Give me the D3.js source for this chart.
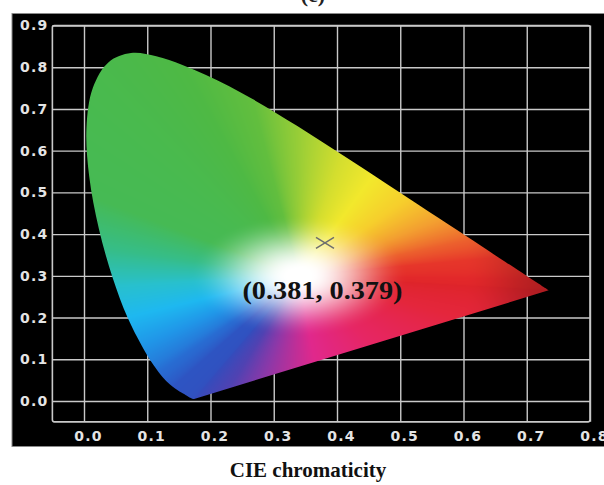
<!DOCTYPE html>
<html>
<head>
<meta charset="utf-8">
<script src="https://cdn.jsdelivr.net/npm/d3@7"></script>
<style>
  html, body { margin: 0; padding: 0; background: #ffffff; }
  svg { display: block; }
</style>
</head>
<body>
<svg id="chart" width="604" height="485"></svg>
<script>
// ---------------- DATA ----------------
// CIE 1931 2° spectral locus (wavelength nm, x, y)
const locusNm = [380,385,390,395,400,405,410,415,420,425,430,435,440,445,450,455,460,465,470,475,480,485,490,495,500,505,510,515,520,525,530,535,540,545,550,555,560,565,570,575,580,585,590,595,600,605,610,615,620,625,630,635,640,645,650,655,660,665,670,675,680,685,690,695,700];
const locusX = [0.1741,0.1740,0.1738,0.1736,0.1733,0.1730,0.1726,0.1721,0.1714,0.1703,0.1689,0.1669,0.1644,0.1611,0.1566,0.1510,0.1440,0.1355,0.1241,0.1096,0.0913,0.0687,0.0454,0.0235,0.0082,0.0039,0.0139,0.0389,0.0743,0.1142,0.1547,0.1929,0.2296,0.2658,0.3016,0.3373,0.3731,0.4087,0.4441,0.4788,0.5125,0.5448,0.5752,0.6029,0.6270,0.6482,0.6658,0.6801,0.6915,0.7006,0.7079,0.7140,0.7190,0.7230,0.7260,0.7283,0.7300,0.7311,0.7320,0.7327,0.7334,0.7340,0.7344,0.7346,0.7347];
const locusY = [0.0050,0.0050,0.0049,0.0049,0.0048,0.0048,0.0048,0.0048,0.0051,0.0058,0.0069,0.0086,0.0109,0.0138,0.0177,0.0227,0.0297,0.0399,0.0578,0.0868,0.1327,0.2007,0.2950,0.4127,0.5384,0.6548,0.7502,0.8120,0.8338,0.8262,0.8059,0.7816,0.7543,0.7243,0.6923,0.6589,0.6245,0.5896,0.5547,0.5202,0.4866,0.4544,0.4242,0.3965,0.3725,0.3514,0.3340,0.3197,0.3083,0.2993,0.2920,0.2859,0.2809,0.2770,0.2740,0.2717,0.2700,0.2689,0.2680,0.2673,0.2666,0.2660,0.2656,0.2654,0.2653];

const xTickValues = [0.0,0.1,0.2,0.3,0.4,0.5,0.6,0.7,0.8];
const yTickValues = [0.0,0.1,0.2,0.3,0.4,0.5,0.6,0.7,0.8,0.9];

const pointX = 0.381;
const pointY = 0.379;
const pointLabel = "(0.381, 0.379)";
const chartTitle = "CIE chromaticity";
const panelLabel = "(c)";

// ---------------- STYLE ----------------
const whitePoint = [0.34, 0.30];
// colour stops along the spectral locus (nm -> rgb)
const nmStops = [
  [380,[52,76,188]],[462,[46,84,194]],[472,[40,108,210]],
  [480,[32,150,232]],[485,[30,184,240]],[489,[40,192,205]],[493,[54,189,135]],
  [498,[70,186,84]],[530,[78,185,68]],[545,[98,190,62]],[555,[150,205,55]],
  [565,[212,222,46]],[572,[242,232,44]],[580,[246,206,44]],[588,[243,160,48]],
  [597,[236,96,45]],[607,[230,54,42]],[630,[226,40,42]],[700,[222,36,42]]
];
// colour stops along the purple line (0 = red end, 1 = violet end)
const purpleStops = [
  [0,[222,36,42]],[0.25,[228,38,60]],[0.5,[230,38,100]],[0.66,[224,40,140]],
  [0.8,[140,56,168]],[0.9,[80,66,178]],[1,[52,76,188]]
];

const x = d3.scaleLinear().domain([0, 0.8]).range([84, 590]);
const y = d3.scaleLinear().domain([0, 0.9]).range([401, 25.5]);
const frameX0 = x(-0.05), frameY1 = y(-0.05);
const frameX1 = x(0.8), frameY0 = y(0.9);

const svg = d3.select("#chart");

// clipped top panel label
svg.append("text")
  .attr("x", 313).attr("y", 2)
  .attr("text-anchor", "middle")
  .style("font-family", "'Liberation Serif','Times New Roman',serif")
  .style("font-weight", "bold").style("font-size", "22px")
  .attr("fill", "#222").text(panelLabel);

// black background panel
svg.append("rect")
  .attr("x", 12).attr("y", 13.5).attr("width", 600).attr("height", 433)
  .attr("fill", "#000").attr("stroke", "#8a8a8a").attr("stroke-width", 1);

// grid via axes
const gridColor = "#c9c9c9";
const xAxis = d3.axisBottom(x).tickValues(xTickValues)
  .tickSize(-(frameY1 - frameY0)).tickPadding(9)
  .tickFormat(d3.format(".1f"));
const gx = svg.append("g").attr("transform", `translate(0,${frameY1})`).call(xAxis);
gx.select(".domain").remove();
gx.selectAll("line").attr("stroke", gridColor).attr("stroke-width", 1.4);
gx.selectAll("text").attr("dx", 4);

const yAxis = d3.axisLeft(y).tickValues(yTickValues)
  .tickSize(-(frameX1 - frameX0)).tickPadding(4)
  .tickFormat(d3.format(".1f"));
const gy = svg.append("g").attr("transform", `translate(${frameX0},0)`).call(yAxis);
gy.select(".domain").remove();
gy.selectAll("line").attr("stroke", gridColor).attr("stroke-width", 1.4);

svg.selectAll(".tick text")
  .attr("fill", "#e4e4e4")
  .style("font-family", "'DejaVu Sans', Verdana, sans-serif")
  .style("font-weight", "bold").style("font-size", "14px")
  .style("letter-spacing", "1.2px");

// frame
svg.append("rect")
  .attr("x", frameX0).attr("y", frameY0)
  .attr("width", frameX1 - frameX0).attr("height", frameY1 - frameY0)
  .attr("rx", 2)
  .attr("fill", "none").attr("stroke", gridColor).attr("stroke-width", 1.6);

// ---------------- chromaticity fill ----------------
function lerpColor(stops, v) {
  if (v <= stops[0][0]) return stops[0][1].slice();
  for (let i = 0; i < stops.length - 1; i++) {
    const a = stops[i], b = stops[i + 1];
    if (v <= b[0]) {
      const t = (v - a[0]) / (b[0] - a[0]);
      return [0,1,2].map(k => a[1][k] + (b[1][k] - a[1][k]) * t);
    }
  }
  return stops[stops.length - 1][1].slice();
}

const locus = locusNm.map((nm, i) => ({nm, x: locusX[i], y: locusY[i]}));
// dense boundary
const boundary = [];
for (let i = 0; i < locus.length - 1; i++) {
  const a = locus[i], b = locus[i + 1];
  for (let k = 0; k < 10; k++) {
    const u = k / 10;
    const nm = a.nm + (b.nm - a.nm) * u;
    boundary.push({x: a.x + (b.x - a.x) * u, y: a.y + (b.y - a.y) * u, c: lerpColor(nmStops, nm)});
  }
}
const last = locus[locus.length - 1], first = locus[0];
boundary.push({x: last.x, y: last.y, c: lerpColor(nmStops, last.nm)});
for (let k = 1; k < 200; k++) {
  const t = k / 200;
  boundary.push({x: last.x + (first.x - last.x) * t, y: last.y + (first.y - last.y) * t, c: lerpColor(purpleStops, t)});
}

const N = 4096;
const lutC = new Array(N);
const wx = whitePoint[0], wy = whitePoint[1];
function wrap(a) { while (a > Math.PI) a -= 2 * Math.PI; while (a <= -Math.PI) a += 2 * Math.PI; return a; }
const nb = boundary.length;
const segAng = boundary.map(p => Math.atan2(p.y - wy, p.x - wx));
for (let j = 0; j < N; j++) {
  const th = -Math.PI + (j + 0.5) / N * 2 * Math.PI;
  const dx = Math.cos(th), dy = Math.sin(th);
  for (let i = 0; i < nb; i++) {
    const p = boundary[i], q = boundary[(i + 1) % nb];
    const a0 = segAng[i], del = wrap(segAng[(i + 1) % nb] - a0);
    const d = wrap(th - a0);
    if ((del >= 0 && d >= 0 && d <= del) || (del < 0 && d <= 0 && d >= del)) {
      const ex = q.x - p.x, ey = q.y - p.y;
      const px = p.x - wx, py = p.y - wy;
      const den = dx * ey - dy * ex;
      if (Math.abs(den) < 1e-12) continue;
      const u = (px * dy - py * dx) / den;
      const uu = Math.max(0, Math.min(1, u));
      lutC[j] = [0,1,2].map(k => p.c[k] + (q.c[k] - p.c[k]) * uu);
      break;
    }
  }
  if (!lutC[j]) lutC[j] = [255,255,255];
}

const cw = 604, ch = 485;
const canvas = document.createElement("canvas");
canvas.width = cw; canvas.height = ch;
const ctx = canvas.getContext("2d");
const img = ctx.createImageData(cw, ch);
const pxMin = Math.floor(x(0)) - 3, pxMax = Math.ceil(x(0.74)) + 3;
const pyMin = Math.floor(y(0.84)) - 3, pyMax = Math.ceil(y(0)) + 4;
function smooth(e0, e1, v) { const t = Math.max(0, Math.min(1, (v - e0) / (e1 - e0))); return t * t * (3 - 2 * t); }
for (let py = pyMin; py <= pyMax; py++) {
  const cy = y.invert(py + 0.5);
  for (let px = pxMin; px <= pxMax; px++) {
    const cx = x.invert(px + 0.5);
    const dx = cx - wx, dy = cy - wy;
    // slightly elongated white core (wider horizontally)
    const dist = Math.sqrt(dx * dx * 0.8 + dy * dy * 1.1);
    const th = Math.atan2(dy, dx);
    let j = Math.floor((th + Math.PI) / (2 * Math.PI) * N); if (j >= N) j = N - 1; if (j < 0) j = 0;
    const c = lutC[j];
    const f = smooth(0.015, 0.155, dist);
    // darker towards the red corner
    const dark = 1 - 0.22 * smooth(0.6, 0.74, cx);
    const idx = (py * cw + px) * 4;
    img.data[idx] = (255 + (c[0] - 255) * f) * dark;
    img.data[idx + 1] = (255 + (c[1] - 255) * f) * dark;
    img.data[idx + 2] = (255 + (c[2] - 255) * f) * dark;
    img.data[idx + 3] = 255;
  }
}
ctx.putImageData(img, 0, 0);

const line = d3.line().x(d => x(d.x)).y(d => y(d.y)).curve(d3.curveCatmullRom.alpha(0.5));
svg.append("clipPath").attr("id", "locusClip")
  .append("path").attr("d", line(locus) + "Z");
svg.append("image")
  .attr("href", canvas.toDataURL())
  .attr("x", 0).attr("y", 0).attr("width", cw).attr("height", ch)
  .attr("clip-path", "url(#locusClip)");

// marker
const mx = x(pointX), my = y(pointY);
svg.append("path")
  .attr("d", `M${mx - 9},${my - 5.5}L${mx + 9},${my + 5.5}M${mx - 9},${my + 5.5}L${mx + 9},${my - 5.5}`)
  .attr("stroke", "#6e6e6e").attr("stroke-width", 1.5).attr("fill", "none");

svg.append("text")
  .attr("x", mx - 2.5).attr("y", my + 56)
  .attr("text-anchor", "middle")
  .attr("textLength", 160).attr("lengthAdjust", "spacingAndGlyphs")
  .style("font-family", "'Liberation Serif','Times New Roman',serif")
  .style("font-weight", "bold").style("font-size", "25px")
  .attr("fill", "#111").text(pointLabel);

// bottom title
svg.append("text")
  .attr("x", 308).attr("y", 477)
  .attr("text-anchor", "middle")
  .style("font-family", "'Liberation Serif','Times New Roman',serif")
  .style("font-weight", "bold").style("font-size", "21px")
  .attr("fill", "#111").text(chartTitle);
</script>
</body>
</html>
